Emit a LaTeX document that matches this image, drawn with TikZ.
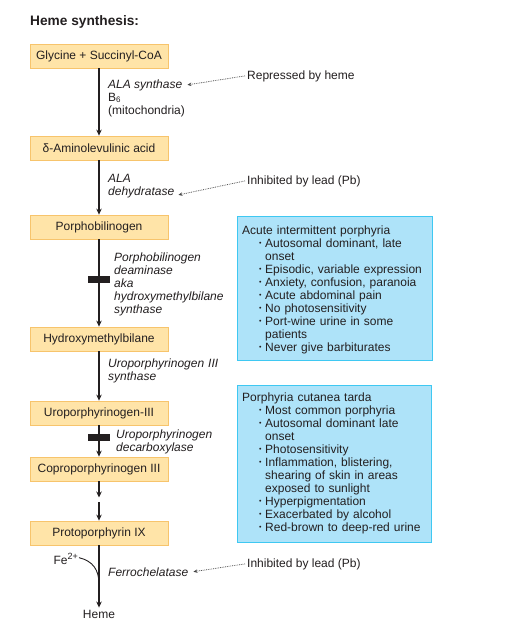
\documentclass[tikz,border=0pt]{standalone}
\usepackage{fontspec}
\setmainfont{Liberation Sans}
\usetikzlibrary{arrows.meta}
\definecolor{ink}{HTML}{231F20}
\definecolor{ofill}{HTML}{FFE4A8}
\definecolor{oline}{HTML}{F7C46C}
\definecolor{bfill}{HTML}{AEE3F9}
\definecolor{bline}{HTML}{3FC8F2}
\definecolor{dotc}{HTML}{444444}
\newcommand\bl{\hspace*{17pt}\makebox[6pt][l]{\raisebox{1.2pt}{\fontsize{7}{7}\selectfont •}}}
\newcommand\ct{\hspace*{23pt}}
\begin{document}
\begin{tikzpicture}[x=1pt,y=-1pt,
  every node/.style={text=ink,font=\fontsize{12}{13}\selectfont},
  obox/.style={draw=oline,fill=ofill,line width=0.8pt,minimum width=138pt,minimum height=24pt,inner sep=0pt},
  bbox/.style={draw=bline,fill=bfill,line width=0.8pt,inner sep=0pt,anchor=north west},
  lab/.style={anchor=base west,inner sep=0pt,font=\fontsize{12}{13}\selectfont\itshape},
  labr/.style={anchor=base west,inner sep=0pt},
  note/.style={anchor=base west,inner sep=2pt},
  main/.style={draw=ink,line width=1.8pt,-{Stealth[length=6pt,width=5.5pt]}},
  dotarrow/.style={draw=dotc,line width=0.75pt,densely dotted,-{Stealth[length=4pt,width=3.5pt,fill=dotc]}},
  barblk/.style={fill=ink,minimum width=22pt,minimum height=7pt,inner sep=0pt},
  boxtext/.style={anchor=base west,inner sep=0pt,text width=188pt,align=left}
]
\useasboundingbox (0,0) rectangle (530,625);
\fill[white] (0,0) rectangle (530,625);

\node[anchor=base west,inner sep=0pt,font=\fontsize{13.7}{15}\selectfont\bfseries] (title) at (30,25) {Heme synthesis:};

% pathway boxes
\node[obox] (gly) at (99,56) {Glycine + Succinyl-CoA};
\node[obox] (ala) at (99,148) {δ-Aminolevulinic acid};
\node[obox] (pbg) at (99,227) {Porphobilinogen};
\node[obox] (hmb) at (99,339) {Hydroxymethylbilane};
\node[obox] (uro) at (99,413) {Uroporphyrinogen-III};
\node[obox] (copro) at (99,469) {Coproporphyrinogen III};
\node[obox] (proto) at (99,533) {Protoporphyrin IX};
\node[anchor=base,inner sep=2pt] (heme) at (99,618) {Heme};

% arrows
\draw[main] (gly.south) -- (ala.north);
\draw[main] (ala.south) -- (pbg.north);
\draw[main] (pbg.south) -- (hmb.north);
\draw[main] (hmb.south) -- (uro.north);
\draw[main] (uro.south) -- (copro.north);
\coordinate (mid1) at (99,497.5);
\coordinate (mid2) at (99,502);
\draw[main] (copro.south) -- (mid1);
\draw[main] (mid2) -- (proto.north);
\draw[main] (proto.south) -- (heme.north);

% blocks
\node[barblk] (bar1) at (99,279.5) {};
\node[barblk] (bar2) at (99,437) {};

% enzyme labels
\node[lab] (alasyn) at (108,88) {ALA synthase};
\node[labr] (b6) at (108,101) {B\textsubscript{6}};
\node[labr] (mito) at (108,114) {(mitochondria)};
\node[lab] (alad1) at (108,182) {ALA};
\node[lab] (alad2) at (108,195) {dehydratase};
\node[lab,text width=120pt,align=left] (pbgd) at (114,261) {Porphobilinogen\\deaminase\\aka\\hydroxymethylbilane\\synthase};
\node[lab,text width=120pt,align=left] (uros) at (108,367) {Uroporphyrinogen III\\synthase};
\node[lab,text width=120pt,align=left] (urod) at (116,438) {Uroporphyrinogen\\decarboxylase};
\node[lab] (ferro) at (108,576) {Ferrochelatase};

% Fe2+
\node[anchor=base east,inner sep=0pt] (fe) at (78,564) {Fe\raisebox{4.5pt}{\fontsize{9}{9}\selectfont 2+}};
\coordinate (fej) at (99,584);
\draw[ink,line width=0.9pt] ([xshift=1pt,yshift=1pt]fe.east) .. controls (93,561) and (99,570) .. (fej);

% notes
\node[note] (rep) at (245,79) {Repressed by heme};
\node[note] (lead1) at (245,184) {Inhibited by lead (Pb)};
\node[note] (lead2) at (245,567) {Inhibited by lead (Pb)};
\draw[dotarrow] (rep.west) -- ([xshift=5pt]alasyn.east);
\draw[dotarrow] (lead1.west) -- ([xshift=4pt,yshift=-3pt]alad2.east);
\draw[dotarrow] (lead2.west) -- ([xshift=5pt]ferro.east);

% disease boxes
\node[bbox,minimum width=195pt,minimum height=144pt] (aipbox) at (237,216) {};
\node[boxtext] (aip) at (242,234) {Acute intermittent porphyria\\
\bl Autosomal dominant, late\\
\ct onset\\
\bl Episodic, variable expression\\
\bl Anxiety, confusion, paranoia\\
\bl Acute abdominal pain\\
\bl No photosensitivity\\
\bl Port-wine urine in some\\
\ct patients\\
\bl Never give barbiturates};

\node[bbox,minimum width=194pt,minimum height=157pt] (pctbox) at (237,385) {};
\node[boxtext] (pct) at (242,401) {Porphyria cutanea tarda\\
\bl Most common porphyria\\
\bl Autosomal dominant late\\
\ct onset\\
\bl Photosensitivity\\
\bl Inflammation, blistering,\\
\ct shearing of skin in areas\\
\ct exposed to sunlight\\
\bl Hyperpigmentation\\
\bl Exacerbated by alcohol\\
\bl Red-brown to deep-red urine};
\end{tikzpicture}
\end{document}
